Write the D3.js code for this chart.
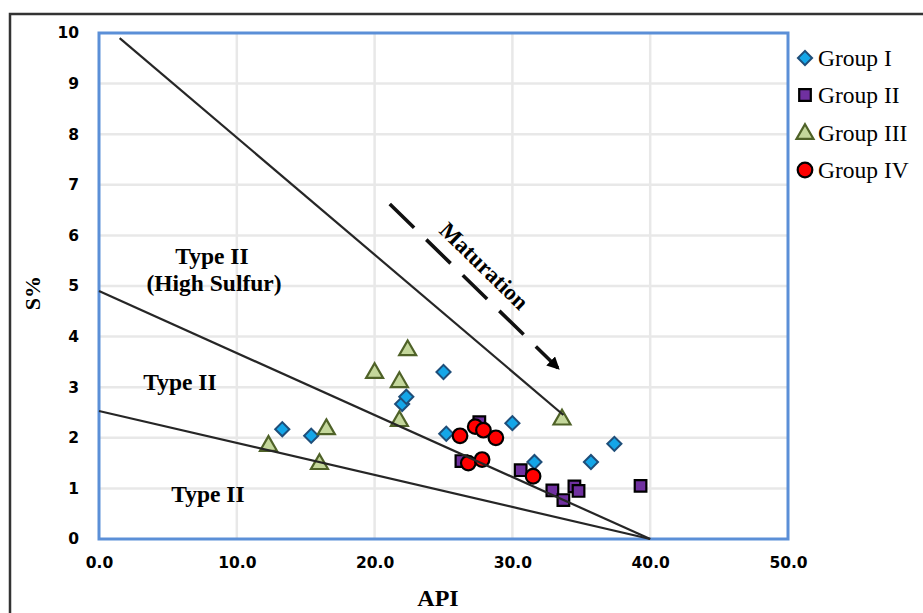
<!DOCTYPE html>
<html>
<head>
<meta charset="utf-8">
<script src="https://cdn.jsdelivr.net/npm/d3@7"></script>
<style>
  body { margin: 0; background: #fff; }
  svg { display: block; }
</style>
</head>
<body>
<svg id="chart" width="923" height="613"></svg>
<script>
// Group values: API and S%
const groupI_api  = [13.3, 15.4, 22.0, 22.3, 25.0, 25.2, 30.0, 31.6, 35.7, 37.4];
const groupI_s    = [2.17, 2.04, 2.67, 2.81, 3.30, 2.08, 2.29, 1.52, 1.52, 1.88];
const groupII_api = [26.3, 27.6, 30.6, 32.9, 33.7, 34.5, 34.8, 39.3];
const groupII_s   = [1.54, 2.31, 1.36, 0.96, 0.77, 1.04, 0.95, 1.05];
const groupIII_api = [12.3, 16.0, 16.5, 20.0, 21.8, 21.8, 22.4, 33.6];
const groupIII_s   = [1.86, 1.50, 2.19, 3.30, 3.12, 2.35, 3.75, 2.38];
const groupIV_api = [26.2, 26.8, 27.3, 27.8, 27.9, 28.8, 31.5];
const groupIV_s   = [2.04, 1.50, 2.22, 1.57, 2.15, 2.00, 1.24];

// boundary lines (API, S%)
const lineA = [[1.5, 9.9], [33.7, 2.45]];
const lineB = [[0, 4.9], [40, 0]];
const lineC = [[0, 2.53], [40, 0]];
const maturationArrow = [[21.1, 6.62], [33.3, 3.38]];

const xTicks = [0, 10, 20, 30, 40, 50];
const yTicks = [0, 1, 2, 3, 4, 5, 6, 7, 8, 9, 10];
const groupNames = ["Group I", "Group II", "Group III", "Group IV"];

const svg = d3.select("#chart");
const margin = {left: 99, top: 33};
const width = 689, height = 506;

// outer frame
svg.append("rect")
    .attr("x", 10).attr("y", 14)
    .attr("width", 1000).attr("height", 1000)
    .attr("fill", "none")
    .attr("stroke", "#333")
    .attr("stroke-width", 2.5);

const x = d3.scaleLinear().domain([0, 50]).range([0, width]);
const y = d3.scaleLinear().domain([0, 10]).range([height, 0]);

const g = svg.append("g").attr("transform", `translate(${margin.left},${margin.top})`);

// gridlines
g.append("g").selectAll("line")
    .data(yTicks.slice(1, -1))
    .enter().append("line")
    .attr("x1", 0).attr("x2", width)
    .attr("y1", d => y(d)).attr("y2", d => y(d))
    .attr("stroke", "#e8e8e8").attr("stroke-width", 2.5);
g.append("g").selectAll("line")
    .data(xTicks.slice(1, -1))
    .enter().append("line")
    .attr("y1", 0).attr("y2", height)
    .attr("x1", d => x(d)).attr("x2", d => x(d))
    .attr("stroke", "#e8e8e8").attr("stroke-width", 2.5);

// axes (labels only)
const xAxis = g.append("g")
    .attr("transform", `translate(0,${height})`)
    .call(d3.axisBottom(x).tickValues(xTicks).tickFormat(d3.format(".1f")).tickSize(0).tickPadding(18));
const yAxis = g.append("g")
    .call(d3.axisLeft(y).tickValues(yTicks).tickFormat(d3.format("d")).tickSize(0).tickPadding(20));
[xAxis, yAxis].forEach(a => {
    a.select(".domain").remove();
    a.selectAll("text")
        .attr("font-family", "'DejaVu Sans', sans-serif")
        .attr("font-weight", 700)
        .attr("font-size", 15.5)
        .attr("fill", "#000");
});

// plot border
g.append("rect")
    .attr("width", width).attr("height", height)
    .attr("fill", "none")
    .attr("stroke", "#5b8fd7")
    .attr("stroke-width", 3);

const pts = (xs, ys) => xs.map((v, i) => [v, ys[i]]);

const symDiamond = d3.symbol().type(d3.symbolSquare).size(100);
const symSquare = d3.symbol().type(d3.symbolSquare).size(135);
const symTriangle = d3.symbol().type(d3.symbolTriangle).size(125);

function drawMarkers(data, draw) {
    const sel = g.append("g").selectAll("path")
        .data(data).enter().append("path")
        .attr("transform", d => `translate(${x(d[0])},${y(d[1])})`);
    draw(sel);
}

drawMarkers(pts(groupI_api, groupI_s), s => s
    .attr("d", symDiamond)
    .attr("transform", d => `translate(${x(d[0])},${y(d[1])}) rotate(45)`)
    .attr("fill", "#14a6e8").attr("stroke", "#1f4e79").attr("stroke-width", 2));
drawMarkers(pts(groupII_api, groupII_s), s => s
    .attr("d", symSquare)
    .attr("fill", "#7030a0").attr("stroke", "#000").attr("stroke-width", 2.2));
drawMarkers(pts(groupIII_api, groupIII_s), s => s
    .attr("d", symTriangle)
    .attr("transform", d => `translate(${x(d[0])},${y(d[1]) + 1})`)
    .attr("fill", "#c4d79b").attr("stroke", "#4f6228").attr("stroke-width", 2.2));
g.append("g").selectAll("circle")
    .data(pts(groupIV_api, groupIV_s)).enter().append("circle")
    .attr("cx", d => x(d[0])).attr("cy", d => y(d[1]))
    .attr("r", 7.3)
    .attr("fill", "#ff0000").attr("stroke", "#000").attr("stroke-width", 2.2);

// boundary lines
const line = d3.line().x(d => x(d[0])).y(d => y(d[1]));
[lineA, lineB, lineC].forEach(l => {
    g.append("path").attr("d", line(l))
        .attr("fill", "none").attr("stroke", "#262626").attr("stroke-width", 2.2);
});

// maturation arrow
svg.append("defs").append("marker")
    .attr("id", "arrow")
    .attr("viewBox", "0 0 10 10")
    .attr("refX", 8).attr("refY", 5)
    .attr("markerWidth", 3.5).attr("markerHeight", 3.5)
    .attr("orient", "auto")
    .append("path").attr("d", "M0,0L10,5L0,10Z").attr("fill", "#000");
g.append("path").attr("d", line(maturationArrow))
    .attr("fill", "none").attr("stroke", "#111").attr("stroke-width", 3.6)
    .attr("stroke-dasharray", "34,17")
    .attr("marker-end", "url(#arrow)");

const serif = "'Liberation Serif', 'Times New Roman', serif";
const ax0 = maturationArrow[0], ax1 = maturationArrow[1];
const ang = Math.atan2(y(ax1[1]) - y(ax0[1]), x(ax1[0]) - x(ax0[0])) * 180 / Math.PI;
svg.append("text")
    .attr("transform", `translate(484,266) rotate(${ang})`)
    .attr("text-anchor", "middle").attr("dominant-baseline", "central")
    .attr("font-family", serif).attr("font-weight", 700).attr("font-size", 23)
    .text("Maturation");

// region labels
const labels = [
    {t: "Type II", x: 212, y: 264},
    {t: "(High Sulfur)", x: 214, y: 291},
    {t: "Type II", x: 180, y: 390},
    {t: "Type II", x: 208, y: 502}
];
svg.append("g").selectAll("text").data(labels).enter().append("text")
    .attr("x", d => d.x).attr("y", d => d.y)
    .attr("text-anchor", "middle")
    .attr("font-family", serif).attr("font-weight", 700).attr("font-size", 23.5)
    .text(d => d.t);

// axis titles
svg.append("text")
    .attr("x", 438).attr("y", 606)
    .attr("text-anchor", "middle")
    .attr("font-family", serif).attr("font-weight", 700).attr("font-size", 24)
    .text("API");
svg.append("text")
    .attr("transform", "translate(40,293) rotate(-90)")
    .attr("text-anchor", "middle")
    .attr("font-family", serif).attr("font-weight", 700).attr("font-size", 22)
    .text("S%");

// legend
const legend = svg.append("g").attr("transform", "translate(805,0)");
const legY = [58, 95, 133, 170];
legend.append("path").attr("d", symDiamond())
    .attr("transform", `translate(0,${legY[0]}) rotate(45)`)
    .attr("fill", "#14a6e8").attr("stroke", "#1f4e79").attr("stroke-width", 2);
legend.append("path").attr("d", symSquare())
    .attr("transform", `translate(0,${legY[1]})`)
    .attr("fill", "#7030a0").attr("stroke", "#000").attr("stroke-width", 2.2);
legend.append("path").attr("d", symTriangle())
    .attr("transform", `translate(0,${legY[2] + 1})`)
    .attr("fill", "#c4d79b").attr("stroke", "#4f6228").attr("stroke-width", 2.2);
legend.append("circle").attr("cx", 0).attr("cy", legY[3]).attr("r", 7.3)
    .attr("fill", "#ff0000").attr("stroke", "#000").attr("stroke-width", 2.2);
legend.selectAll("text.lg").data(groupNames).enter().append("text")
    .attr("x", 13).attr("y", (d, i) => legY[i])
    .attr("dominant-baseline", "central")
    .attr("font-family", serif).attr("font-size", 23.5)
    .text(d => d);
</script>
</body>
</html>
